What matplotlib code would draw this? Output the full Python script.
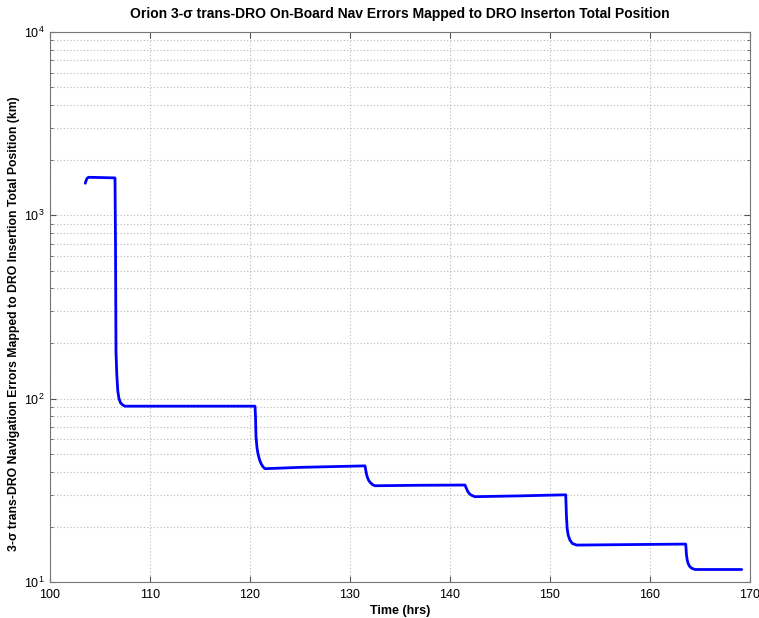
import matplotlib
matplotlib.use("Agg")
import matplotlib.pyplot as plt
from matplotlib.ticker import LogLocator, NullFormatter

plt.rcParams['font.family'] = ['Liberation Sans', 'DejaVu Sans']

# Time (hrs) and 3-sigma position error (km)
time_hrs = [103.53, 103.6, 103.7, 103.85, 104.5, 105.5, 106.5, 106.55, 106.6, 106.68,
            106.78, 106.9, 107.05, 107.25, 107.5, 110.0, 115.0, 120.5,
            120.55, 120.6, 120.7, 120.8, 120.95, 121.1, 121.3, 121.5, 125.0, 131.5,
            131.55, 131.62, 131.72, 131.85, 132.0, 132.25, 132.5, 137.0, 141.5,
            141.55, 141.62, 141.75, 141.9, 142.1, 142.5, 147.0, 151.57,
            151.6, 151.65, 151.72, 151.82, 152.0, 152.25, 152.67, 158.0, 163.57,
            163.6, 163.65, 163.72, 163.82, 163.95, 164.15, 164.5, 169.17]
pos_err_km = [1496, 1540, 1590, 1612, 1610, 1605, 1600, 700, 180, 135,
              110, 100, 95, 92.5, 91, 91, 91, 91,
              80, 62, 54, 50, 46.5, 44.3, 42.5, 41.5, 42.2, 43.0,
              41.5, 39.5, 37.5, 36.0, 35.0, 34.0, 33.5, 33.7, 33.8,
              33.3, 32.6, 31.4, 30.5, 29.8, 29.2, 29.5, 29.9,
              27.0, 22.5, 19.5, 18.0, 16.9, 16.2, 15.9, 16.0, 16.1,
              15.3, 14.0, 13.2, 12.6, 12.2, 11.9, 11.7, 11.7]

x_ticks = [100, 110, 120, 130, 140, 150, 160, 170]

title = "Orion 3-\u03c3 trans-DRO On-Board Nav Errors Mapped to DRO Inserton Total Position"
xlabel = "Time (hrs)"
ylabel = "3-\u03c3 trans-DRO Navigation Errors Mapped to DRO Insertion Total Position (km)"

fig = plt.figure(figsize=(7.59, 6.18), dpi=100)
ax = fig.add_axes([50/759, 36/618, 700/759, 550/618])

ax.plot(time_hrs, pos_err_km, color='#0000ff', lw=2.0,
        solid_joinstyle='round', solid_capstyle='round')

ax.set_yscale('log')
ax.set_xlim(100, 170)
ax.set_ylim(10, 1e4)
ax.set_xticks(x_ticks)
ax.yaxis.set_major_locator(LogLocator(base=10, numticks=10))
ax.yaxis.set_minor_locator(LogLocator(base=10, subs=range(2, 10), numticks=20))
ax.yaxis.set_minor_formatter(NullFormatter())

ax.grid(True, which='major', axis='both', color='#b8b8b8', linestyle=(0, (1, 2)), lw=0.8)
ax.grid(True, which='minor', axis='y', color='#b8b8b8', linestyle=(0, (1, 2)), lw=0.8)

ax.tick_params(which='both', direction='in', labelsize=9, color='#555555',
               top=True, right=True)
ax.tick_params(which='major', length=4)
ax.tick_params(axis='y', which='major', pad=4)
ax.tick_params(axis='x', which='major', pad=5)
ax.tick_params(which='minor', length=2)
for s in ax.spines.values():
    s.set_color('#777777')

ax.set_title(title, fontsize=10, fontweight='bold', pad=10)
ax.set_xlabel(xlabel, fontsize=9, fontweight='bold', labelpad=3)
ax.set_ylabel(ylabel, fontsize=8.8, fontweight='bold', labelpad=2)
ax.yaxis.set_label_coords(-0.043, 0.47)

fig.savefig('out.png', dpi=100)
